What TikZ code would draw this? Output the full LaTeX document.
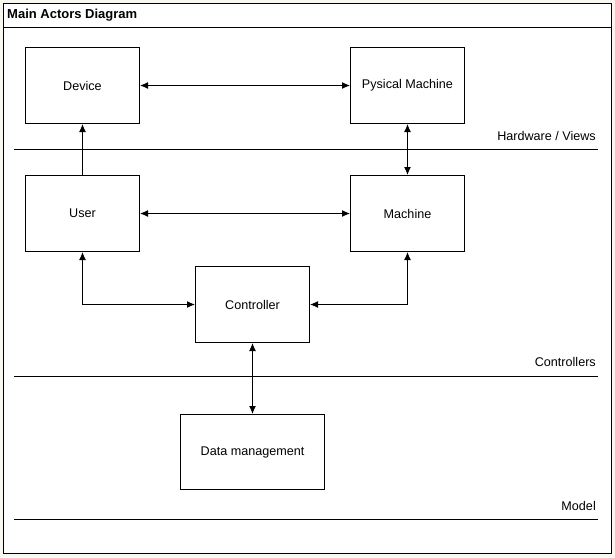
\documentclass[tikz,border=0pt]{standalone}
\usepackage{fontspec}
\setmainfont{Liberation Sans}
\usetikzlibrary{arrows.meta}
\definecolor{bgcream}{RGB}{250,248,238}
\begin{document}
\begin{tikzpicture}[x=1pt,y=-1pt,
  box/.style={draw,line width=1pt,minimum width=114pt,minimum height=76pt,inner sep=0pt,font=\fontsize{12.6}{14}\selectfont,anchor=north west},
  conn/.style={line width=1pt,{Latex[length=8pt,width=7pt]}-{Latex[length=8pt,width=7pt]}},
  conn1/.style={line width=1pt,-{Latex[length=8pt,width=7pt]}},
  sep/.style={line width=1pt},
  lbl/.style={font=\fontsize{12.6}{14}\selectfont,anchor=east,inner sep=0pt}]
\useasboundingbox (0,0) rectangle (615,557);
\fill[bgcream] (0,0) rectangle (615,557);
\draw[line width=1pt,fill=white] (3,3) rectangle (611,553);
\draw[line width=1pt] (3,27) -- (611,27);
\node[anchor=west,inner sep=0pt,font=\fontsize{13}{15}\selectfont\bfseries] (title) at (7,15) {Main Actors Diagram};
% boxes
\node[box] (device) at (25,47) {Device};
\node[box] (pm) at (350,47) {Pysical Machine};
\node[box] (user) at (25,175) {User};
\node[box] (machine) at (350,175) {Machine};
\node[box] (ctrl) at (195,266) {Controller};
\node[box,minimum width=144pt,minimum height=75pt] (data) at (180,414) {Data management};
% separators
\coordinate (s1a) at (14,149); \coordinate (s1b) at (598,149);
\coordinate (s2a) at (14,376); \coordinate (s2b) at (598,376);
\coordinate (s3a) at (14,519); \coordinate (s3b) at (598,519);
\draw[sep] (s1a) -- (s1b);
\draw[sep] (s2a) -- (s2b);
\draw[sep] (s3a) -- (s3b);
\node[lbl] (l1) at (596,136) {Hardware / Views};
\node[lbl] (l2) at (596,362) {Controllers};
\node[lbl] (l3) at (596,506) {Model};
% connectors
\draw[conn] (device.east) -- (pm.west);
\draw[conn1] (user.north) -- (device.south);
\draw[conn] (pm.south) -- (machine.north);
\draw[conn] (user.east) -- (machine.west);
\draw[conn] (user.south) |- (ctrl.west);
\draw[conn] (machine.south) |- (ctrl.east);
\draw[conn] (ctrl.south) -- (data.north);
\end{tikzpicture}
\end{document}
